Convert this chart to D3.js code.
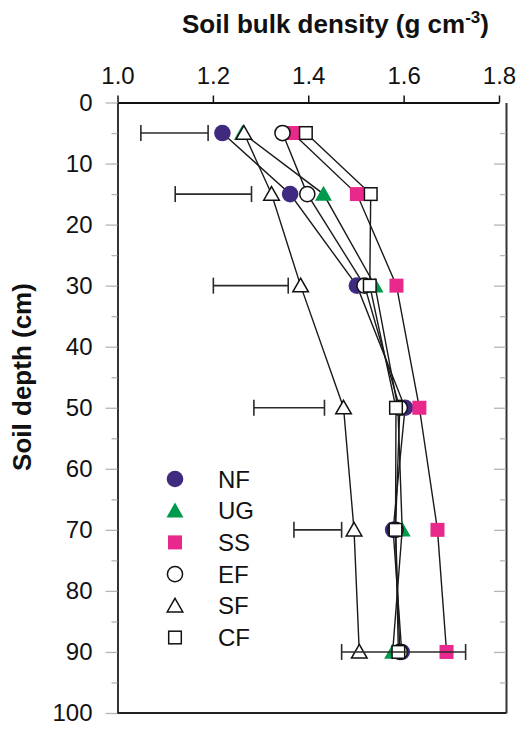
<!DOCTYPE html>
<html>
<head>
<meta charset="utf-8">
<script src="https://cdn.jsdelivr.net/npm/d3@7"></script>
<style>
    html, body { margin: 0; padding: 0; background: #fff; }
    #chart { width: 519px; height: 729px; }
    text { font-family: "Liberation Sans", Arial, sans-serif; fill: #111; }
</style>
</head>
<body>
<div id="chart"></div>
<script>
// --- data ---
const depths = [5, 15, 30, 50, 70, 90];
const seriesNames = ["NF", "UG", "SS", "EF", "SF", "CF"];
const nfValues = [1.220, 1.362, 1.502, 1.603, 1.578, 1.596];
const ugValues = [1.262, 1.432, 1.540, 1.588, 1.597, 1.577];
const ssValues = [1.367, 1.502, 1.585, 1.633, 1.671, 1.690];
const efValues = [1.346, 1.398, 1.518, 1.592, 1.583, 1.592];
const sfValues = [1.265, 1.323, 1.384, 1.474, 1.496, 1.507];
const cfValues = [1.395, 1.531, 1.529, 1.584, 1.583, 1.589];
// floating error bars (left / right ends)
const errLow = [1.049, 1.121, 1.201, 1.286, 1.370, 1.470];
const errHigh = [1.190, 1.281, 1.358, 1.434, 1.470, 1.730];
const xTicks = [1.0, 1.2, 1.4, 1.6, 1.8];
const yTicks = [0, 10, 20, 30, 40, 50, 60, 70, 80, 90, 100];
const yMinorTicks = [5, 15, 25, 35, 45, 55, 65, 75, 85, 95];

document.addEventListener('DOMContentLoaded', () => {
    const width = 519, height = 729;
    const left = 117.5, right = 506, top = 102.5, bottom = 713;

    const svg = d3.select('#chart').append('svg')
        .attr('width', width)
        .attr('height', height)
        .attr('viewBox', `0 0 ${width} ${height}`)
        .style('display', 'block');

    const x = d3.scaleLinear().domain([1.0, 1.8]).range([left, 499]);
    const y = d3.scaleLinear().domain([0, 100]).range([top, bottom]);

    const styles = {
        NF: { shape: 'circle', fill: '#402a7f', stroke: 'none' },
        UG: { shape: 'triangle', fill: '#009a4c', stroke: 'none' },
        SS: { shape: 'square', fill: '#e8288a', stroke: 'none' },
        EF: { shape: 'circle', fill: '#fff', stroke: '#111' },
        SF: { shape: 'triangle', fill: '#fff', stroke: '#111' },
        CF: { shape: 'square', fill: '#fff', stroke: '#111' }
    };
    const values = { NF: nfValues, UG: ugValues, SS: ssValues, EF: efValues, SF: sfValues, CF: cfValues };

    // --- axes ---
    const grey = '#b5b5b5';

    // left axis, grey ticks outward
    const gLeft = svg.append('g').attr('transform', `translate(${left},0)`);
    gLeft.call(d3.axisLeft(y).tickValues(yTicks).tickSize(12).tickPadding(13).tickSizeOuter(0));
    gLeft.append('g').call(d3.axisLeft(y).tickValues(yMinorTicks).tickSize(6).tickFormat('').tickSizeOuter(0))
        .select('.domain').remove();
    gLeft.selectAll('.tick line').attr('stroke', grey).attr('stroke-width', 1.3);
    gLeft.select('.domain').attr('stroke', '#333').attr('stroke-width', 2);
    gLeft.selectAll('.tick text').attr('font-size', 24).attr('fill', '#111')
        .attr('font-family', '"Liberation Sans", Arial, sans-serif');

    // right border, grey ticks inward
    const gRight = svg.append('g').attr('transform', `translate(${right},0)`);
    gRight.call(d3.axisRight(y).tickValues(yTicks.slice(1, -1)).tickSize(-12).tickFormat('').tickSizeOuter(0));
    gRight.append('g').call(d3.axisRight(y).tickValues(yMinorTicks).tickSize(-6).tickFormat('').tickSizeOuter(0))
        .select('.domain').remove();
    gRight.selectAll('.tick line').attr('stroke', grey).attr('stroke-width', 1.3);
    gRight.select('.domain').attr('stroke', '#333').attr('stroke-width', 2);

    // top axis
    const gTop = svg.append('g').attr('transform', `translate(0,${top})`);
    gTop.call(d3.axisTop(x).tickValues(xTicks).tickFormat(d3.format('.1f')).tickSize(7).tickPadding(12).tickSizeOuter(0));
    gTop.select('.domain').attr('stroke', '#111').attr('stroke-width', 2);
    gTop.selectAll('.tick line').attr('stroke', '#111').attr('stroke-width', 1.5);
    gTop.selectAll('.tick text').attr('font-size', 24).attr('fill', '#111')
        .attr('font-family', '"Liberation Sans", Arial, sans-serif');

    // bottom line
    svg.append('line')
        .attr('x1', left).attr('x2', right)
        .attr('y1', bottom).attr('y2', bottom)
        .attr('stroke', '#222').attr('stroke-width', 2);

    // titles
    const title = svg.append('text')
        .attr('x', 182).attr('y', 33)
        .attr('font-size', 26).attr('font-weight', 'bold');
    title.append('tspan').text('Soil bulk density (g cm');
    title.append('tspan').attr('font-size', 17).attr('dy', -10).text('-3');
    title.append('tspan').attr('dy', 10).text(')');

    svg.append('text')
        .attr('transform', 'translate(31,377) rotate(-90)')
        .attr('text-anchor', 'middle')
        .attr('font-size', 26).attr('font-weight', 'bold')
        .text('Soil depth (cm)');

    // --- lines ---
    const line = d3.line().x(d => x(d.v)).y(d => y(d.depth));
    seriesNames.forEach(name => {
        const pts = depths.map((depth, i) => ({ depth, v: values[name][i] }));
        svg.append('path')
            .datum(pts)
            .attr('d', line)
            .attr('fill', 'none')
            .attr('stroke', '#1a1a1a')
            .attr('stroke-width', 1.4);
    });

    // --- markers ---
    function drawMarker(g, cx, cy, st) {
        if (st.shape === 'circle') {
            g.append('circle').attr('cx', cx).attr('cy', cy).attr('r', st.stroke === 'none' ? 8.3 : 7.6)
                .attr('fill', st.fill).attr('stroke', st.stroke).attr('stroke-width', 1.5);
        } else if (st.shape === 'square') {
            const s = st.stroke === 'none' ? 14 : 12.6;
            g.append('rect').attr('x', cx - s / 2).attr('y', cy - s / 2).attr('width', s).attr('height', s)
                .attr('fill', st.fill).attr('stroke', st.stroke).attr('stroke-width', 1.5);
        } else {
            const w = st.stroke === 'none' ? 8.5 : 7.8, h = st.stroke === 'none' ? 15 : 13.6;
            g.append('path')
                .attr('d', `M${cx},${cy - h * 0.55}L${cx + w},${cy + h * 0.45}L${cx - w},${cy + h * 0.45}Z`)
                .attr('fill', st.fill).attr('stroke', st.stroke).attr('stroke-width', 1.5)
                .attr('stroke-linejoin', 'miter');
        }
    }

    const gMarks = svg.append('g');
    seriesNames.forEach(name => {
        depths.forEach((depth, i) => drawMarker(gMarks, x(values[name][i]), y(depth), styles[name]));
    });

    // --- error bars ---
    const gErr = svg.append('g').attr('stroke', '#2a2a2a').attr('stroke-width', 1.6);
    depths.forEach((depth, i) => {
        const yy = y(depth);
        gErr.append('line').attr('x1', x(errLow[i])).attr('x2', x(errHigh[i])).attr('y1', yy).attr('y2', yy);
        [errLow[i], errHigh[i]].forEach(v => {
            gErr.append('line').attr('x1', x(v)).attr('x2', x(v)).attr('y1', yy - 8).attr('y2', yy + 8);
        });
    });

    // --- legend ---
    const gLegend = svg.append('g');
    seriesNames.forEach((name, i) => {
        const ly = 479 + i * 31.7;
        drawMarker(gLegend, 175, ly, styles[name]);
        gLegend.append('text')
            .attr('x', 218).attr('y', ly)
            .attr('dy', '0.36em')
            .attr('font-size', 24)
            .text(name);
    });
});
</script>
</body>
</html>
